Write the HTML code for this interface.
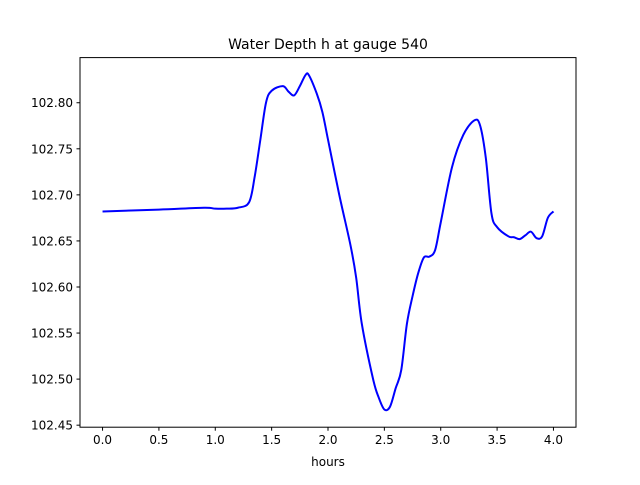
<!DOCTYPE html>
<html><head><meta charset="utf-8"><style>
body{margin:0;background:#fff;}
svg text{font-family:"DejaVu Sans","Liberation Sans",sans-serif;fill:#000;}
</style></head><body>
<svg width="640" height="480" viewBox="0 0 640 480" xmlns="http://www.w3.org/2000/svg">
<rect width="640" height="480" fill="#fff"/>
<text x="328" y="49" font-size="14" text-anchor="middle">Water Depth h at gauge 540</text>
<g id="ticks"></g>
<path id="line" fill="none" stroke="#0000ff" stroke-width="2" stroke-linejoin="round"/>
<rect x="80" y="57.6" width="496" height="369.6" fill="none" stroke="#000" stroke-width="1"/>
<text x="328" y="466" font-size="12" text-anchor="middle">hours</text>
</svg>
<script>
const hours=[0,0.5,0.9,1.0,1.1,1.2,1.3,1.35,1.4,1.45,1.5,1.6,1.65,1.7,1.75,1.8,1.83,1.9,1.95,2.0,2.1,2.2,2.25,2.3,2.4,2.45,2.5,2.55,2.6,2.65,2.7,2.75,2.8,2.85,2.9,2.95,3.0,3.1,3.2,3.3,3.35,3.4,3.45,3.5,3.6,3.65,3.7,3.75,3.8,3.85,3.9,3.95,4.0];
const depth=[102.682,102.684,102.686,102.685,102.685,102.686,102.692,102.72,102.76,102.80,102.813,102.818,102.812,102.808,102.818,102.830,102.830,102.81,102.79,102.76,102.70,102.645,102.61,102.56,102.50,102.48,102.467,102.47,102.49,102.51,102.56,102.59,102.615,102.632,102.633,102.64,102.67,102.73,102.765,102.781,102.775,102.74,102.68,102.665,102.655,102.654,102.652,102.656,102.660,102.653,102.655,102.675,102.682];
const xTicks=[0,0.5,1.0,1.5,2.0,2.5,3.0,3.5,4.0];
const yTicks=[102.45,102.50,102.55,102.60,102.65,102.70,102.75,102.80];
const L=80,R=576,T=57.6,B=427.2,x0=-0.2,x1=4.2,y0=102.4478,y1=102.849;
const sx=v=>L+(v-x0)/(x1-x0)*(R-L);
const sy=v=>B-(v-y0)/(y1-y0)*(B-T);
const ns="http://www.w3.org/2000/svg";
const g=document.getElementById('ticks');
function mk(t,a){const e=document.createElementNS(ns,t);for(const k in a)e.setAttribute(k,a[k]);g.appendChild(e);return e;}
xTicks.forEach(v=>{
 const l=mk('line',{x1:sx(v),x2:sx(v),y1:B,y2:B+3.5,stroke:'#000'});
 
 
 const t=mk('text',{x:sx(v),y:B+17,'font-size':'12','text-anchor':'middle'});
 t.textContent=v.toFixed(1);
 
 
});
yTicks.forEach(v=>{
 const l=mk('line',{x1:L-3.5,x2:L,y1:sy(v),y2:sy(v),stroke:'#000'});
 
 
 const t=mk('text',{x:L-7,y:sy(v)+4.5,'font-size':'12','text-anchor':'end'});
 t.textContent=v.toFixed(2);
 
 
});
const P=hours.map((h,i)=>[sx(h),sy(depth[i])]);
let d='M'+P[0][0]+','+P[0][1];
for(let i=0;i<P.length-1;i++){
 const p0=P[Math.max(0,i-1)],p1=P[i],p2=P[i+1],p3=P[Math.min(P.length-1,i+2)];
 const c1=[p1[0]+(p2[0]-p0[0])/6,p1[1]+(p2[1]-p0[1])/6];
 const c2=[p2[0]-(p3[0]-p1[0])/6,p2[1]-(p3[1]-p1[1])/6];
 d+=` C${c1[0]},${c1[1]} ${c2[0]},${c2[1]} ${p2[0]},${p2[1]}`;
}
document.getElementById('line').setAttribute('d',d);
</script>
</body></html>
